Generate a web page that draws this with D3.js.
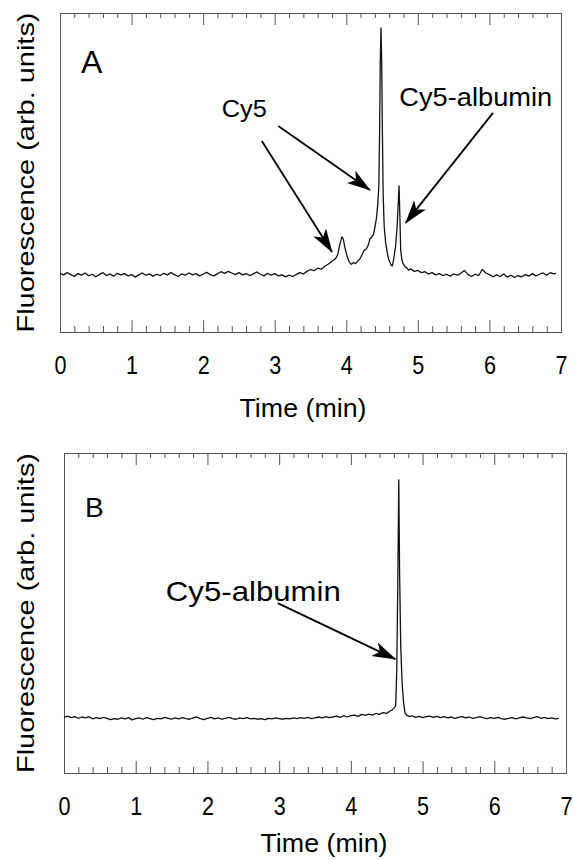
<!DOCTYPE html>
<html>
  <head>
    <meta charset="utf-8" />
    <script src="https://d3js.org/d3.v7.min.js"></script>
    <style>
      body { margin: 0; background: #fff; }
      text { font-family: "Liberation Sans", Arial, sans-serif; fill: #000; }
    </style>
  </head>
  <body>
    <div id="chart"></div>
    <script>
      // [time (min), fluorescence (arb. units)]
      var traceA = [
        [0.00,18.4],[0.05,17.9],[0.10,18.6],[0.15,18.0],[0.20,17.4],[0.25,18.3],[0.30,17.8],[0.35,18.5],
        [0.40,17.6],[0.45,18.1],[0.50,17.3],[0.55,18.0],[0.60,18.6],[0.65,17.7],[0.70,18.2],[0.75,17.5],
        [0.80,18.4],[0.85,17.9],[0.90,18.3],[0.95,17.6],[1.00,18.0],[1.05,17.2],[1.10,17.9],[1.15,18.5],
        [1.20,17.8],[1.25,18.2],[1.30,17.5],[1.35,18.1],[1.40,17.7],[1.45,18.4],[1.50,17.9],[1.55,18.6],
        [1.60,18.0],[1.65,17.4],[1.70,18.2],[1.75,17.8],[1.80,18.5],[1.85,17.9],[1.90,18.3],[1.95,17.6],
        [2.00,18.1],[2.05,18.7],[2.10,18.0],[2.15,17.6],[2.20,18.3],[2.25,18.9],[2.30,18.4],[2.35,19.0],
        [2.40,18.5],[2.45,18.0],[2.50,18.6],[2.55,17.9],[2.60,18.3],[2.65,17.7],[2.70,18.2],[2.75,18.8],
        [2.80,18.1],[2.85,17.6],[2.90,18.4],[2.95,17.8],[3.00,18.3],[3.05,17.6],[3.10,17.9],[3.15,17.3],
        [3.20,17.8],[3.25,17.4],[3.30,18.0],[3.35,18.6],[3.40,18.2],[3.45,19.0],[3.50,19.6],[3.55,19.2],
        [3.60,20.0],[3.65,19.7],[3.70,20.6],[3.75,21.3],[3.80,22.2],[3.85,23.0],[3.88,24.2],[3.91,27.5],
        [3.94,29.8],[3.96,29.0],[3.98,26.5],[4.01,23.8],[4.04,22.0],[4.07,21.2],[4.10,21.8],[4.13,21.4],
        [4.16,22.3],[4.19,22.9],[4.22,24.2],[4.25,25.6],[4.28,26.0],[4.31,27.4],[4.33,29.2],[4.35,29.6],
        [4.38,30.6],[4.40,32.9],[4.42,35.5],[4.44,40.0],[4.455,46.0],[4.465,62.0],[4.475,85.0],[4.485,95.3],
        [4.495,84.0],[4.505,62.0],[4.515,43.0],[4.53,33.0],[4.55,28.0],[4.57,25.2],[4.59,23.0],[4.61,21.9],
        [4.625,21.0],[4.643,20.7],[4.66,22.5],[4.69,27.0],[4.71,33.0],[4.725,40.0],[4.737,45.8],[4.748,37.0],
        [4.76,25.7],[4.775,23.0],[4.79,21.6],[4.82,20.5],[4.845,20.1],[4.87,19.4],[4.90,19.8],[4.95,19.0],
        [5.00,19.3],[5.05,18.6],[5.10,18.9],[5.15,18.2],[5.20,18.6],[5.25,17.9],[5.30,18.3],[5.35,17.7],
        [5.40,18.1],[5.45,17.5],[5.50,18.2],[5.55,17.8],[5.60,18.4],[5.65,19.3],[5.70,18.0],[5.75,17.4],
        [5.80,18.1],[5.85,17.7],[5.90,19.6],[5.95,18.5],[6.00,18.0],[6.05,17.3],[6.10,17.9],[6.15,17.4],
        [6.20,18.2],[6.25,17.2],[6.30,17.8],[6.35,17.1],[6.40,17.7],[6.45,17.3],[6.50,18.0],[6.55,17.5],
        [6.60,18.3],[6.65,17.6],[6.70,18.1],[6.75,18.5],[6.80,17.8],[6.85,18.6],[6.90,18.2],[6.93,18.4]
      ];

      var traceB = [
        [0.00,17.4],[0.05,17.8],[0.10,17.3],[0.15,17.6],[0.20,17.1],[0.25,17.5],[0.30,17.2],[0.35,17.6],
        [0.40,16.9],[0.45,17.3],[0.50,17.0],[0.55,17.4],[0.60,17.1],[0.65,16.7],[0.70,17.0],[0.75,16.8],
        [0.80,17.2],[0.85,16.9],[0.90,17.3],[0.95,16.6],[1.00,17.0],[1.05,17.2],[1.10,16.8],[1.15,17.3],
        [1.20,17.0],[1.25,16.7],[1.30,17.1],[1.35,16.9],[1.40,17.4],[1.45,17.1],[1.50,16.8],[1.55,17.2],
        [1.60,16.9],[1.65,17.3],[1.70,17.0],[1.75,16.8],[1.80,17.2],[1.85,17.5],[1.90,17.0],[1.95,16.7],
        [2.00,17.1],[2.05,17.4],[2.10,16.9],[2.15,17.2],[2.20,16.8],[2.25,17.1],[2.30,17.4],[2.35,17.0],
        [2.40,16.8],[2.45,17.2],[2.50,17.0],[2.55,17.3],[2.60,16.9],[2.65,17.1],[2.70,16.8],[2.75,17.0],
        [2.80,16.7],[2.85,17.1],[2.90,16.9],[2.95,17.2],[3.00,17.0],[3.05,16.8],[3.10,17.1],[3.15,16.9],
        [3.20,17.2],[3.25,17.0],[3.30,17.3],[3.35,17.1],[3.40,17.4],[3.45,17.0],[3.50,17.2],[3.55,17.5],
        [3.60,17.2],[3.65,17.6],[3.70,17.3],[3.75,17.5],[3.80,17.8],[3.85,17.4],[3.90,17.9],[3.95,17.5],
        [4.00,17.9],[4.05,18.1],[4.10,17.7],[4.15,18.3],[4.20,18.0],[4.25,18.4],[4.30,18.1],[4.35,18.6],
        [4.40,18.3],[4.45,18.9],[4.50,18.6],[4.54,19.3],[4.57,19.6],[4.60,20.2],[4.625,21.0],[4.64,32.0],
        [4.655,60.0],[4.668,91.6],[4.68,62.0],[4.695,40.0],[4.715,28.0],[4.735,22.0],[4.755,18.8],[4.78,18.0],
        [4.82,17.6],[4.85,17.9],[4.90,17.4],[4.95,17.7],[5.00,17.3],[5.05,17.6],[5.10,17.8],[5.15,17.4],
        [5.20,17.7],[5.25,17.3],[5.30,17.6],[5.35,17.2],[5.40,17.5],[5.45,17.1],[5.50,17.4],[5.55,17.6],
        [5.60,17.2],[5.65,17.5],[5.70,17.1],[5.75,17.3],[5.80,17.6],[5.85,17.2],[5.90,17.0],[5.95,17.3],
        [6.00,17.1],[6.05,17.4],[6.10,17.0],[6.15,16.8],[6.20,17.1],[6.25,17.3],[6.30,16.9],[6.35,17.2],
        [6.40,17.5],[6.45,17.2],[6.50,17.0],[6.55,17.3],[6.60,17.6],[6.65,17.1],[6.70,17.4],[6.75,17.0],
        [6.80,17.2],[6.85,16.9],[6.90,17.1]
      ];

      var majorTicks = [0, 1, 2, 3, 4, 5, 6, 7];
      var minorTicks = d3.range(0, 35).filter(function (i) { return i % 5; }).map(function (i) { return i / 5; });
      var xTitle = "Time (min)";
      var yTitle = "Fluorescence (arb. units)";

      // labels and arrows, in data units (time, fluorescence)
      var notesA = [
        { text: "Cy5", t: 2.26, v: 67.4 },
        { text: "Cy5-albumin", t: 4.74, v: 70.8 }
      ];
      var arrowsA = [
        [2.82, 59.9, 3.80, 25.1],
        [3.05, 64.6, 4.33, 44.5],
        [6.05, 68.7, 4.83, 34.2]
      ];
      var notesB = [{ text: "Cy5-albumin", t: 1.42, v: 53.75 }];
      var arrowsB = [[2.98, 53.1, 4.62, 35.6]];

      var svg = d3.select("#chart").append("svg").attr("width", 573).attr("height", 860);

      svg.append("defs").append("marker")
        .attr("id", "head")
        .attr("viewBox", "0 -8 24 16")
        .attr("refX", 23).attr("refY", 0)
        .attr("markerWidth", 24).attr("markerHeight", 16)
        .attr("markerUnits", "userSpaceOnUse")
        .attr("orient", "auto")
        .append("path")
        .attr("d", "M0,-7.5L24,0L0,7.5L6,0Z")
        .attr("fill", "#000");

      function panel(p) {
        var x = d3.scaleLinear().domain([0, 7]).range([p.left, p.right]);
        var y = d3.scaleLinear().domain([0, 100]).range([p.bottom, p.top]);
        var g = svg.append("g");

        // ticks, pointing inward on top and bottom
        function ticks(axis, pos, vals, len, labels) {
          var a = g.append("g")
            .attr("transform", "translate(0," + pos + ")")
            .call(axis(x).tickValues(vals).tickSize(-len).tickSizeOuter(0)
              .tickFormat(labels ? d3.format("d") : ""));
          a.select(".domain").remove();
          a.selectAll("line").attr("stroke", "#555");
          return a;
        }
        ticks(d3.axisBottom, p.bottom, minorTicks, 6, false);
        ticks(d3.axisTop, p.top, minorTicks, 5, false);
        ticks(d3.axisTop, p.top, majorTicks, 12, false);
        var lab = ticks(d3.axisBottom, p.bottom, majorTicks, 12, true);
        lab.selectAll("text")
          .attr("y", 42).attr("dy", null)
          .attr("font-size", 26)
          .attr("textLength", 12).attr("lengthAdjust", "spacingAndGlyphs")
          .style("font-family", '"Liberation Sans", Arial, sans-serif')
          .attr("fill", "#000");

        g.append("rect")
          .attr("x", p.left + 0.5).attr("y", p.top + 0.5)
          .attr("width", p.right - p.left).attr("height", p.bottom - p.top)
          .attr("fill", "none").attr("stroke", "#555").attr("stroke-width", 1);

        var line = d3.line()
          .x(function (d) { return x(d[0]); })
          .y(function (d) { return y(d[1]); });
        g.append("path").datum(p.data)
          .attr("d", line)
          .attr("fill", "none").attr("stroke", "#111")
          .attr("stroke-width", 1.3).attr("stroke-linejoin", "round");

        g.selectAll(".arrow").data(p.arrows).enter().append("line")
          .attr("x1", function (d) { return x(d[0]); })
          .attr("y1", function (d) { return y(d[1]); })
          .attr("x2", function (d) { return x(d[2]); })
          .attr("y2", function (d) { return y(d[3]); })
          .attr("stroke", "#000").attr("stroke-width", 1.8)
          .attr("marker-end", "url(#head)");

        g.selectAll(".note").data(p.notes).enter().append("text")
          .attr("x", function (d) { return x(d.t); })
          .attr("y", function (d) { return y(d.v); })
          .attr("font-size", function (d, i) { return p.noteSize[i]; })
          .attr("textLength", function (d, i) { return p.noteLen[i]; })
          .attr("lengthAdjust", "spacingAndGlyphs")
          .text(function (d) { return d.text; });

        g.append("text")
          .attr("x", p.left + 21).attr("y", p.tagY)
          .attr("font-size", p.tagSize)
          .text(p.tag);

        g.append("text")
          .attr("x", p.titleX).attr("y", p.bottom + p.titleDy)
          .attr("text-anchor", "middle")
          .attr("font-size", 25)
          .attr("textLength", 127).attr("lengthAdjust", "spacingAndGlyphs")
          .text(xTitle);

        g.append("text")
          .attr("transform", "translate(34," + (p.top + p.bottom) / 2 + ") rotate(-90)")
          .attr("text-anchor", "middle")
          .attr("font-size", 24)
          .attr("textLength", 320).attr("lengthAdjust", "spacingAndGlyphs")
          .text(yTitle);
      }

      panel({
        left: 60, right: 561, top: 13, bottom: 332,
        data: traceA, notes: notesA, arrows: arrowsA,
        noteSize: [24, 25], noteLen: [45, 153],
        tag: "A", tagY: 73, tagSize: 32, titleX: 303, titleDy: 85
      });
      panel({
        left: 64, right: 566, top: 453, bottom: 773,
        data: traceB, notes: notesB, arrows: arrowsB,
        noteSize: [28], noteLen: [175],
        tag: "B", tagY: 517, tagSize: 28, titleX: 324, titleDy: 79
      });
    </script>
  </body>
</html>
